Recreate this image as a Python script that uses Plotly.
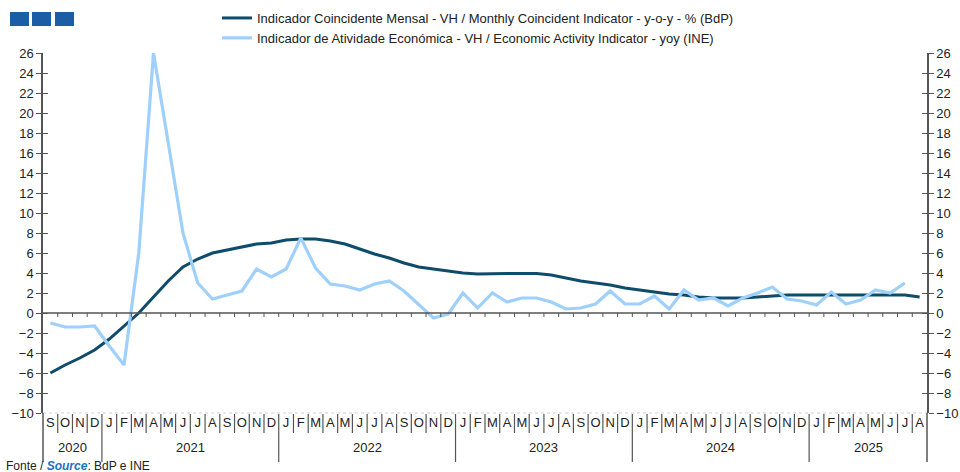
import plotly.graph_objects as go

# ---- data -------------------------------------------------------------
periods = [f"{y}-{m:02d}" for y, m in
           [(2020, m) for m in range(9, 13)] +
           [(y, m) for y in (2021, 2022, 2023, 2024) for m in range(1, 13)] +
           [(2025, m) for m in range(1, 9)]]

month_letters = ["J", "F", "M", "A", "M", "J", "J", "A", "S", "O", "N", "D"]
month_labels = [month_letters[int(p[5:]) - 1] for p in periods]

year_labels = ["2020", "2021", "2022", "2023", "2024", "2025"]

bdp_coincident = [
    -6.0, -5.2, -4.5, -3.7,                                        # 2020 S-D
    -2.6, -1.3, 0.0, 1.6, 3.2, 4.6, 5.4, 6.0, 6.3, 6.6, 6.9, 7.0,  # 2021
    7.3, 7.4, 7.4, 7.2, 6.9, 6.4, 5.9, 5.5, 5.0, 4.6, 4.4, 4.2,    # 2022
    4.0, 3.9, 3.95, 3.95, 3.95, 3.95, 3.8, 3.5, 3.2, 3.0, 2.8, 2.5,  # 2023
    2.3, 2.1, 1.9, 1.8, 1.6, 1.5, 1.5, 1.5, 1.6, 1.7, 1.8, 1.8,    # 2024
    1.8, 1.8, 1.8, 1.8, 1.8, 1.8, 1.8, 1.6,                        # 2025 J-A
]

ine_activity = [
    -1.0, -1.4, -1.4, -1.3,                                        # 2020 S-D
    -3.3, -5.2, 6.0, 26.0, 17.0, 8.0, 3.0, 1.4, 1.8, 2.2, 4.4, 3.6,  # 2021
    4.4, 7.5, 4.5, 2.9, 2.7, 2.3, 2.9, 3.2, 2.2, 0.9, -0.5, -0.1,  # 2022
    2.0, 0.5, 2.0, 1.1, 1.5, 1.5, 1.1, 0.4, 0.5, 0.9, 2.2, 0.9,    # 2023
    0.9, 1.7, 0.4, 2.3, 1.3, 1.5, 0.7, 1.5, 2.0, 2.6, 1.4, 1.2,    # 2024
    0.8, 2.1, 0.9, 1.3, 2.3, 2.0, 3.0, None,                       # 2025 J-A
]

series_names = [
    "Indicador Coincidente Mensal - VH / Monthly Coincident Indicator - y-o-y - % (BdP)",
    "Indicador de Atividade Económica - VH / Economic Activity Indicator - yoy (INE)",
]

y_ticks = list(range(-10, 27, 2))

# ---- styling ----------------------------------------------------------
DARK = "#0f4c6b"
LIGHT = "#9fd0fb"
AXIS = "#555555"
TXT = "#222222"
FONT = "Liberation Sans, Arial, sans-serif"

W, H = 960, 472
ML, MR, MT, MB = 43, 33, 53, 59
PW, PH = W - ML - MR, H - MT - MB

def py(p):  # pixel y -> paper y
    return (H - MB - p) / PH

def px(p):  # pixel x -> paper x
    return (p - ML) / PW

x = list(range(len(periods)))

fig = go.Figure()
fig.add_trace(go.Scatter(x=x, y=bdp_coincident, mode="lines", name=series_names[0],
                         line=dict(color=DARK, width=3)))
fig.add_trace(go.Scatter(x=x, y=ine_activity, mode="lines", name=series_names[1],
                         line=dict(color=LIGHT, width=3.2)))
# empty traces to keep overlay axes alive
for ya in ("y2", "y3", "y4"):
    fig.add_trace(go.Scatter(x=[None], y=[None], yaxis=ya, showlegend=False,
                             hoverinfo="skip"))

yrange = [-10, 26]
ycommon = dict(range=yrange, tickvals=y_ticks, showgrid=False, zeroline=False,
               showline=True, linecolor=AXIS, linewidth=1.5, tickcolor=AXIS,
               ticklen=5, tickwidth=1.2, automargin=False,
               tickfont=dict(size=13, color=TXT, family=FONT))

fig.update_layout(
    width=W, height=H,
    margin=dict(l=ML, r=MR, t=MT, b=MB, autoexpand=False),
    paper_bgcolor="white", plot_bgcolor="white",
    font=dict(family=FONT, color=TXT),
    xaxis=dict(range=[-0.5, len(periods) - 0.5], tickvals=x, ticktext=month_labels,
               showgrid=False, zeroline=False, showline=False, ticks="",
               automargin=False, tickangle=0,
               tickfont=dict(size=13, color=TXT, family=FONT)),
    yaxis=dict(**ycommon, ticks="outside", side="left"),
    yaxis2=dict(**ycommon, ticks="outside", side="right", overlaying="y", anchor="x"),
    yaxis3=dict(**ycommon, ticks="inside", side="left", overlaying="y", anchor="x",
                showticklabels=False),
    yaxis4=dict(**ycommon, ticks="inside", side="right", overlaying="y", anchor="x",
                showticklabels=False),
    legend=dict(x=px(217), y=py(3), xanchor="left", yanchor="top",
                font=dict(size=13, color=TXT, family=FONT),
                bgcolor="rgba(0,0,0,0)", tracegroupgap=0, itemwidth=30),
    showlegend=True,
)

shapes = []
# zero line + small ticks at month boundaries
shapes.append(dict(type="line", xref="paper", yref="y", x0=0, x1=1, y0=0, y1=0,
                   line=dict(color=AXIS, width=1.5)))
for i in range(len(periods) - 1):
    shapes.append(dict(type="line", xref="x", yref="y", x0=i + 0.5, x1=i + 0.5,
                       y0=0, y1=-0.4, line=dict(color=AXIS, width=1)))
# faint dotted bottom line
shapes.append(dict(type="line", xref="paper", yref="paper", x0=0, x1=1, y0=0, y1=0,
                   line=dict(color="#d0d0d0", width=1, dash="dot")))
# month separators and year separators below the plot
for i in range(len(periods) - 1):
    new_year = periods[i + 1].endswith("-01")
    shapes.append(dict(type="line", xref="x", yref="paper", x0=i + 0.5, x1=i + 0.5,
                       y0=py(414), y1=py(462 if new_year else 433),
                       line=dict(color=AXIS, width=1.2)))
# axis extensions down to the year row
for xp in (0, 1):
    shapes.append(dict(type="line", xref="paper", yref="paper", x0=xp, x1=xp,
                       y0=0, y1=py(462), line=dict(color=AXIS, width=1.5)))
# logo squares
for a, b in ((10, 29), (32, 51), (55, 74)):
    shapes.append(dict(type="rect", xref="paper", yref="paper", x0=px(a), x1=px(b),
                       y0=py(26), y1=py(12), fillcolor="#1b5ea6", line=dict(width=0)))
fig.update_layout(shapes=shapes)

# year labels
annotations = []
year_pos = {}
for i, p in enumerate(periods):
    year_pos.setdefault(p[:4], []).append(i)
for yl in year_labels:
    idx = year_pos[yl]
    annotations.append(dict(text=yl, xref="x", yref="paper",
                            x=(idx[0] + idx[-1]) / 2, y=py(447),
                            showarrow=False, xanchor="center", yanchor="middle",
                            font=dict(size=13, color=TXT, family=FONT)))
annotations.append(dict(
    text='Fonte / <b><i><span style="color:#1f6fbf">Source</span></i></b>: BdP e INE',
    xref="paper", yref="paper", x=px(4), y=py(466), xanchor="left", yanchor="middle",
    showarrow=False, font=dict(size=12, color=TXT, family=FONT)))
fig.update_layout(annotations=annotations)

fig.write_html("out.html",
               config={"displayModeBar": False},
               post_script="document.body.style.margin='0';"
                           "document.body.style.overflow='hidden';")
